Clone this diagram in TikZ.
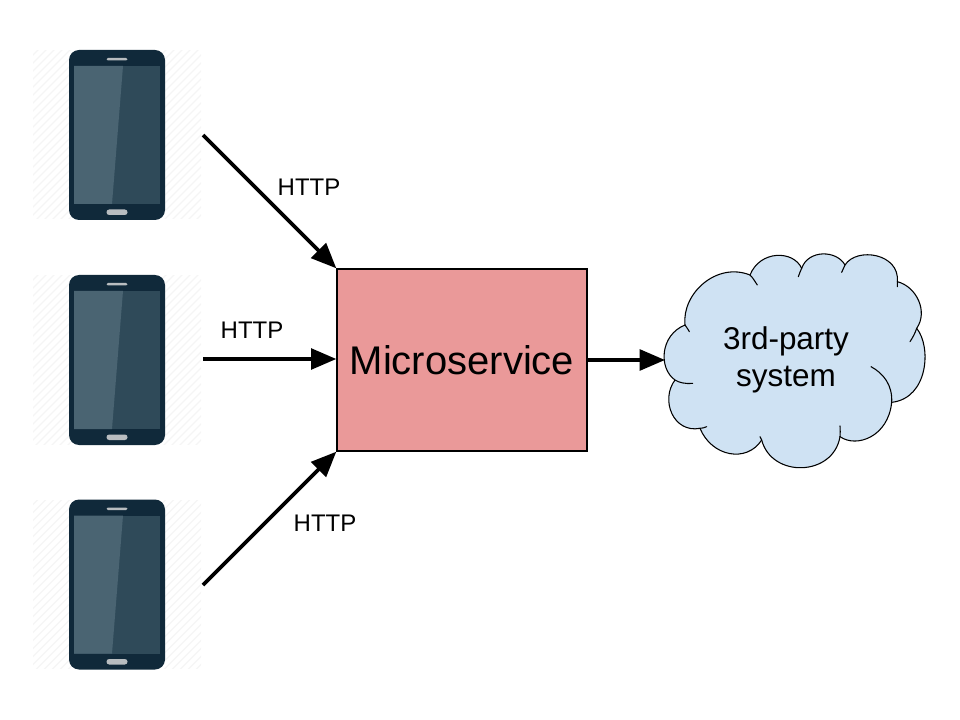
\documentclass[tikz,border=0pt]{standalone}
\usepackage{fontspec}
\setmainfont{Liberation Sans}
\usetikzlibrary{arrows.meta}
\definecolor{phonebody}{HTML}{10293A}
\definecolor{screendark}{HTML}{2F4A59}
\definecolor{screenlight}{HTML}{4A6472}
\definecolor{phonebtn}{HTML}{B9BDC0}
\definecolor{hatchcol}{HTML}{F5F5F5}
\definecolor{boxfill}{HTML}{EA9999}
\definecolor{cloudfill}{HTML}{CFE2F3}
\tikzset{
  conn/.style={line width=2.8pt,-{Triangle[length=19pt,width=15.5pt]},shorten >=0pt},
  lbl/.style={font=\fontsize{18pt}{21pt}\selectfont,inner sep=0pt},
  svc/.style={draw=black,line width=1pt,fill=boxfill,minimum width=187.5pt,minimum height=136.5pt,inner sep=0pt,font=\fontsize{30pt}{36pt}\selectfont},
  cloudtext/.style={align=center,inner sep=0pt,font=\fontsize{23.6pt}{28.2pt}\selectfont},
  cloudline/.style={draw=black,line width=0.8pt,line cap=round},
  phonepic/.pic={
    \begin{scope}
      \clip (-84,-84) rectangle (84,84);
      \foreach \d in {-340,-332,...,340}{
        \draw[hatchcol,line width=0.9pt] (\d-90,90) -- (\d+90,-90);
      }
    \end{scope}
    \fill[phonebody] (-48,-85) [rounded corners=7.5pt] rectangle (48,85);
    \fill[screendark] (-43,-69) rectangle (43,69);
    \fill[screenlight] (-43,-69) -- (6,-69) -- (-5,69) -- (-43,69) -- cycle;
    \fill[phonebtn,rounded corners=1pt] (-10.5,-77) rectangle (10.5,-74.5);
    \fill[phonebtn,rounded corners=2pt] (-10.5,74.5) rectangle (10.5,80);
  }
}
\begin{document}
\begin{tikzpicture}[x=0.75pt,y=-0.75pt]
\useasboundingbox (0,0) rectangle (960,720);
\pic at (117,135) {phonepic};
\pic at (117,360) {phonepic};
\pic at (117,584.5) {phonepic};
\coordinate (p1) at (203,135);
\coordinate (p2) at (203,359);
\coordinate (p3) at (203,585);
\node[svc] (svc) at (462,360) {Microservice};
\begin{scope}[shift={(650,240)},x=0.25pt,y=-0.25pt]
  \fill[cloudfill]
    (75,420) .. controls (25,385) and (30,285) .. (105,255)
    .. controls (95,160) and (200,65) .. (300,105)
    .. controls (330,30) and (430,30) .. (455,85)
    .. controls (475,28) and (560,30) .. (585,75)
    .. controls (620,20) and (750,40) .. (742,125)
    .. controls (800,140) and (835,215) .. (800,265)
    .. controls (845,320) and (835,475) .. (725,487)
    .. controls (715,590) and (620,625) .. (570,590)
    .. controls (550,710) and (365,715) .. (335,600)
    .. controls (290,670) and (185,650) .. (150,565)
    .. controls (70,580) and (30,480) .. (75,420) -- cycle;
  \draw[cloudline]
    (128,430) .. controls (105,432) and (88,428) .. (75,420)
    .. controls (25,385) and (30,285) .. (105,255)
    .. controls (108,260) and (115,268) .. (118,275);
  \draw[cloudline]
    (105,255) .. controls (95,160) and (200,65) .. (300,105)
    .. controls (308,112) and (315,125) .. (322,135);
  \draw[cloudline]
    (300,105) .. controls (330,30) and (430,30) .. (455,85)
    .. controls (452,92) and (448,100) .. (445,110);
  \draw[cloudline]
    (455,85) .. controls (475,28) and (560,30) .. (585,75)
    .. controls (582,82) and (578,90) .. (575,97);
  \draw[cloudline]
    (585,75) .. controls (620,20) and (750,40) .. (742,125)
    .. controls (742,130) and (742,135) .. (742,140);
  \draw[cloudline]
    (742,125) .. controls (800,140) and (835,215) .. (800,265)
    .. controls (795,280) and (788,293) .. (780,305);
  \draw[cloudline]
    (800,265) .. controls (845,320) and (835,475) .. (725,487);
  \draw[cloudline]
    (663,380) .. controls (700,400) and (728,435) .. (725,487)
    .. controls (715,590) and (620,625) .. (570,590)
    .. controls (572,580) and (570,570) .. (570,558);
  \draw[cloudline]
    (570,590) .. controls (550,710) and (365,715) .. (335,600)
    .. controls (333,597) and (332,594) .. (330,590);
  \draw[cloudline]
    (335,600) .. controls (290,670) and (185,650) .. (150,565)
    .. controls (157,565) and (163,563) .. (170,560);
  \draw[cloudline]
    (150,565) .. controls (70,580) and (30,480) .. (75,420);
\end{scope}
\coordinate (cloudw) at (665,360);
\node[cloudtext] (cloudlabel) at (786,360) {3rd-party\\system};
\draw[conn] (p1) -- (svc.north west);
\draw[conn] (p2) -- (svc.west |- p2);
\draw[conn] (p3) -- (svc.south west);
\draw[conn] (svc.east) -- (cloudw);
\node[lbl] (h1) at (309,187) {HTTP};
\node[lbl] (h2) at (252,330) {HTTP};
\node[lbl] (h3) at (325,523) {HTTP};
\end{tikzpicture}
\end{document}
